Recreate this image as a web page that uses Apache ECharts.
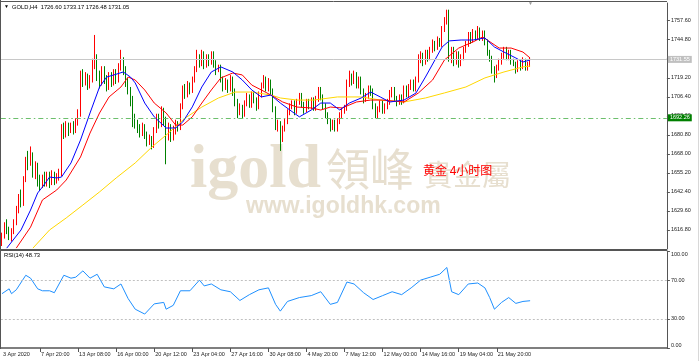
<!DOCTYPE html>
<html><head><meta charset="utf-8">
<script src="https://cdn.jsdelivr.net/npm/echarts@6/dist/echarts.min.js"></script>
<style>html,body{margin:0;padding:0;background:#fff}#c{width:700px;height:361px}</style>
</head><body><div id="c"></div>
<script>
const symbolName = 'GOLD,H4';
const xTickLabels = ['3 Apr 2020','7 Apr 20:00','13 Apr 08:00','16 Apr 00:00','20 Apr 12:00','23 Apr 04:00','27 Apr 16:00','30 Apr 08:00','4 May 20:00','7 May 12:00','12 May 00:00','14 May 16:00','19 May 04:00','21 May 20:00'];
const priceTickStart = 1604.0, priceTickStep = 12.8, priceMax = 1769.5;
const rsiLevels = [0, 30, 70, 100];
const bidPrice = 1731.55;
const hLinePrice = 1692.26;
const rsiLast = 48.73;

const opens = [1610,1613,1620,1616,1612,1616,1622,1631,1639,1635,1651,1664,1662,1667,1656,1660,1650,1647,1651,1648,1653,1649,1654,1650,1652,1655,1684,1681,1686,1683,1687,1684,1689,1695,1721,1716,1720,1714,1718,1728,1731,1720,1716,1724,1718,1713,1720,1716,1722,1718,1726,1731,1724,1716,1711,1704,1690,1688,1684,1681,1686,1680,1676,1678,1674,1684,1692,1688,1696,1690,1684,1686,1680,1684,1688,1686,1700,1712,1708,1714,1711,1718,1725,1731,1729,1734,1728,1733,1730,1735,1728,1724,1726,1718,1713,1716,1712,1718,1710,1702,1696,1699,1695,1702,1706,1701,1708,1704,1700,1708,1714,1718,1712,1716,1710,1698,1686,1688,1678,1685,1690,1696,1700,1702,1697,1703,1707,1701,1698,1703,1700,1704,1699,1705,1711,1706,1700,1694,1690,1686,1689,1685,1690,1694,1697,1699,1715,1720,1717,1721,1714,1718,1710,1704,1707,1712,1710,1700,1694,1698,1702,1697,1700,1703,1709,1711,1705,1703,1706,1704,1712,1708,1713,1716,1712,1718,1732,1734,1730,1736,1733,1738,1742,1740,1744,1742,1752,1758,1762,1734,1738,1730,1735,1729,1733,1738,1742,1748,1745,1749,1747,1751,1746,1749,1743,1736,1732,1724,1721,1726,1730,1734,1738,1733,1736,1730,1728,1725,1729,1727,1730,1726,1726.60];
const highs = [1615,1622,1624,1619,1618,1624,1633,1641,1644,1653,1666,1670,1673,1669,1663,1662,1654,1654,1656,1656,1656,1657,1656,1655,1658,1688,1689,1690,1689,1689,1690,1692,1698,1724,1725,1723,1722,1721,1732,1748,1735,1724,1727,1727,1721,1723,1723,1725,1725,1729,1738,1733,1727,1719,1713,1707,1695,1691,1688,1689,1688,1683,1681,1680,1686,1695,1695,1700,1699,1693,1689,1688,1687,1691,1690,1702,1714,1715,1717,1716,1720,1727,1738,1735,1738,1737,1735,1735,1737,1737,1731,1728,1728,1720,1719,1718,1721,1720,1712,1705,1702,1701,1704,1709,1708,1710,1710,1706,1710,1716,1721,1720,1719,1718,1712,1700,1691,1690,1687,1692,1698,1702,1704,1704,1705,1709,1709,1703,1705,1705,1706,1706,1707,1713,1713,1708,1702,1696,1692,1691,1691,1692,1696,1699,1701,1718,1724,1722,1724,1723,1720,1720,1712,1709,1714,1714,1712,1702,1700,1704,1704,1702,1705,1711,1713,1713,1707,1708,1708,1714,1714,1715,1718,1718,1720,1735,1737,1736,1738,1738,1740,1745,1744,1747,1746,1754,1760,1765,1765,1740,1740,1737,1737,1735,1740,1744,1750,1750,1752,1751,1754,1753,1751,1751,1745,1738,1734,1727,1728,1732,1736,1740,1740,1738,1738,1732,1730,1731,1731,1733,1732,1730,1733.17];
const lows = [1606,1611,1614,1610,1609,1614,1620,1628,1632,1633,1649,1657,1660,1652,1651,1646,1643,1645,1646,1646,1645,1647,1647,1648,1650,1653,1678,1679,1680,1682,1681,1682,1687,1693,1713,1714,1711,1712,1716,1725,1717,1712,1714,1715,1710,1711,1713,1714,1715,1716,1724,1721,1713,1708,1700,1686,1685,1682,1679,1680,1678,1673,1674,1671,1672,1682,1685,1686,1687,1661,1677,1676,1677,1681,1683,1684,1698,1705,1706,1708,1709,1716,1723,1726,1727,1725,1726,1727,1728,1726,1721,1723,1716,1710,1711,1709,1710,1707,1700,1692,1694,1692,1693,1700,1699,1699,1702,1697,1698,1706,1712,1710,1710,1708,1696,1684,1683,1670,1676,1683,1688,1694,1698,1694,1695,1701,1699,1695,1696,1698,1698,1697,1697,1703,1704,1698,1692,1688,1683,1684,1683,1683,1688,1692,1695,1697,1713,1714,1715,1712,1712,1708,1702,1703,1705,1707,1698,1692,1692,1696,1695,1695,1698,1701,1706,1703,1700,1701,1701,1702,1706,1706,1711,1710,1710,1716,1729,1727,1728,1730,1731,1736,1737,1738,1740,1740,1750,1755,1730,1729,1727,1728,1726,1727,1731,1736,1740,1742,1743,1744,1745,1744,1744,1741,1734,1730,1722,1716,1719,1724,1728,1732,1731,1731,1728,1727,1722,1723,1724,1725,1724,1724,1726.48];
const closes = [1613,1620,1616,1612,1616,1622,1631,1639,1635,1651,1664,1662,1667,1656,1660,1650,1647,1651,1648,1653,1649,1654,1650,1652,1655,1684,1681,1686,1683,1687,1684,1689,1695,1721,1716,1720,1714,1718,1728,1731,1720,1716,1724,1718,1713,1720,1716,1722,1718,1726,1731,1724,1716,1711,1704,1690,1688,1684,1681,1686,1680,1676,1678,1674,1684,1692,1688,1696,1690,1684,1686,1680,1684,1688,1686,1700,1712,1708,1714,1711,1718,1725,1731,1729,1734,1728,1733,1730,1735,1728,1724,1726,1718,1713,1716,1712,1718,1710,1702,1696,1699,1695,1702,1706,1701,1708,1704,1700,1708,1714,1718,1712,1716,1710,1698,1686,1688,1678,1685,1690,1696,1700,1702,1697,1703,1707,1701,1698,1703,1700,1704,1699,1705,1711,1706,1700,1694,1690,1686,1689,1685,1690,1694,1697,1699,1715,1720,1717,1721,1714,1718,1710,1704,1707,1712,1710,1700,1694,1698,1702,1697,1700,1703,1709,1711,1705,1703,1706,1704,1712,1708,1713,1716,1712,1718,1732,1734,1730,1736,1733,1738,1742,1740,1744,1742,1752,1758,1762,1734,1738,1730,1735,1729,1733,1738,1742,1748,1745,1749,1747,1751,1746,1749,1743,1736,1732,1724,1721,1726,1730,1734,1738,1733,1736,1730,1728,1725,1729,1727,1730,1726,1727,1731.05];

// moving averages: [bar index, price]
const maBlue = [[2,1604.6],[7.6,1616.8],[11.8,1630.2],[14.6,1641.7],[17.4,1645.7],[20.2,1652.4],[23,1651.8],[25.1,1652.4],[28.6,1661.9],[32.8,1677.3],[37,1695.5],[41.2,1713.0],[44,1719.7],[46.8,1721.1],[50.9,1723.1],[53.8,1719.7],[55.9,1715.7],[60.1,1702.2],[64.3,1692.9],[68.5,1685.4],[72.7,1685.4],[75.5,1689.5],[79.7,1699.6],[83.9,1713.0],[88.1,1723.1],[92.4,1726.5],[96.6,1723.1],[100.8,1717.7],[105,1711.0],[108.5,1706.3],[112.7,1707.6],[116.9,1702.2],[121.1,1697.5],[125.3,1692.9],[129.5,1697.5],[133.7,1702.2],[137.9,1702.2],[142.1,1697.5],[146.3,1702.2],[150.5,1705.6],[154.7,1709.6],[158.9,1706.3],[163.1,1702.9],[169.4,1704.2],[173.6,1708.9],[177.8,1719.7],[182,1731.2],[185.4,1739.9],[188.3,1744.0],[193.4,1744.6],[197.6,1744.6],[203,1746.0],[207.2,1739.9],[211.4,1736.5],[215.6,1732.5],[218.6,1729.8],[222,1731.2]];
const maRed = [[5.5,1604.6],[11.8,1618.7],[17.2,1637.0],[23.1,1643.7],[27.3,1650.4],[32.8,1665.9],[37,1682.0],[41.2,1695.5],[45.4,1706.3],[49.6,1713.0],[53,1719.7],[55.9,1717.7],[60.1,1711.0],[64.3,1702.2],[68.5,1695.5],[72.7,1687.4],[75.7,1687.4],[79.7,1692.9],[83.9,1702.2],[88.1,1711.0],[92.4,1719.1],[96.6,1722.4],[100.8,1721.1],[105,1714.3],[109.2,1711.0],[112.7,1707.6],[118.1,1702.9],[123.9,1699.5],[129.5,1698.9],[133.7,1697.5],[137.9,1699.5],[143.3,1698.9],[149.1,1702.9],[154.7,1704.2],[160.2,1704.2],[169.4,1702.9],[174.8,1708.9],[180.7,1717.7],[186.2,1731.2],[191.7,1739.2],[197.6,1743.3],[201.8,1746.6],[204.3,1744.6],[208.5,1739.2],[214.4,1739.2],[218.6,1736.5],[222,1732.5]];
const maYellow = [[12.6,1604.6],[20.2,1616.8],[27.3,1624.9],[34,1633.6],[41.2,1642.4],[48.3,1651.8],[55.9,1661.9],[63.1,1672.6],[69.8,1682.0],[76.9,1692.1],[84.1,1699.5],[90.8,1705.6],[97.9,1709.6],[105.1,1709.6],[112.7,1707.6],[116.9,1705.6],[123.9,1704.2],[130.7,1704.2],[140.7,1706.3],[150.5,1706.3],[158.9,1704.2],[168.6,1702.9],[177.8,1705.6],[186.2,1709.0],[194.6,1713.0],[203,1719.1],[211.4,1723.1],[218.6,1726.5],[222,1727.1]];
// RSI(14): [bar index, value]
const rsiValues = [[0,56],[2.7,61],[4.1,56],[6.2,60],[9.7,75],[11.8,72],[14.6,61],[17.4,59],[20.2,59],[22.3,57],[25.8,75],[28.6,72],[31.4,73],[34.2,79.5],[37,72],[39.8,76],[43.3,63],[46.8,61],[49.6,66],[53.1,51],[55.9,40],[60.1,35],[63.6,45.5],[67.8,47],[69.2,40],[72,44],[74.8,59],[79,59],[82.5,70],[85,64],[88,66],[92,60],[96,58],[100,49],[104,55],[108,60],[112,62],[115,45],[117,38],[120,48],[125,52],[130,54],[134,58],[138,45],[141,47],[145,68],[148,66],[152,57],[156,50],[160,54],[164,58],[168,55],[172,62],[176,70],[180,73],[184,76],[187,83],[189,58],[192,55],[196,66],[200,67],[203,62],[205,52],[207,40],[210,47],[213,52],[216,46],[219,48],[222,48.73]];

const SLOTS = 280;
const categories = Array.from({length: SLOTS}, (_, i) => String(i));
const candleData = opens.map((o, i) => [o, closes[i], lows[i], highs[i]]);
const last = opens.length - 1;
const fmt = v => Number(v).toFixed(2);

const tinyFont = "'Liberation Sans',Arial,sans-serif";
const labelSize = 5.5;

const chart = echarts.init(document.getElementById('c'), null, {renderer: 'canvas'});
const option = {
  animation: false,
  backgroundColor: '#ffffff',
  grid: [
    {left: 0.81, right: 33.1, top: 3, height: 246},
    {left: 0.81, right: 33.1, top: 251, height: 97}
  ],
  xAxis: [
    {type: 'category', gridIndex: 0, data: categories, boundaryGap: true, show: false},
    {type: 'category', gridIndex: 1, data: categories, boundaryGap: true,
     axisLine: {show: true, lineStyle: {color: '#555', width: 1.5}},
     axisTick: {show: true, alignWithLabel: true, length: 4, lineStyle: {color: '#555'},
       interval: (i) => i > 0 && i % 16 === 0 && i / 16 < xTickLabels.length},
     axisLabel: {show: true, align: 'left', margin: 3, fontSize: labelSize, fontFamily: tinyFont, color: '#222',
       padding: [0, 0, 0, 1],
       interval: (i) => i % 16 === 0 && i / 16 < xTickLabels.length,
       formatter: (v, i) => xTickLabels[i / 16] || ''},
     splitLine: {show: false}}
  ],
  yAxis: [
    {type: 'value', gridIndex: 0, position: 'right', min: priceTickStart, max: priceMax, interval: priceTickStep,
     axisLine: {show: true, lineStyle: {color: '#555', width: 1}},
     axisTick: {show: true, length: 3, lineStyle: {color: '#555'}},
     axisLabel: {fontSize: labelSize, fontFamily: tinyFont, color: '#222', margin: 4, formatter: fmt,
       showMinLabel: false, showMaxLabel: false},
     splitLine: {show: false}},
    {type: 'value', gridIndex: 1, position: 'right', min: 0, max: 100, interval: 10,
     axisLine: {show: true, lineStyle: {color: '#555', width: 1}},
     axisTick: {show: true, length: 3, lineStyle: {color: '#555'}, customValues: rsiLevels},
     axisLabel: {fontSize: labelSize, fontFamily: tinyFont, color: '#222', margin: 4,
       customValues: rsiLevels,
       formatter: v => rsiLevels.indexOf(v) >= 0 ? fmt(v) : '',
       verticalAlignMaxLabel: 'top', verticalAlignMinLabel: 'bottom'},
     splitLine: {show: false}}
  ],
  series: [
    {type: 'candlestick', xAxisIndex: 0, yAxisIndex: 0, data: candleData, barWidth: 1,
     itemStyle: {color: '#ff0000', color0: '#008000', borderColor: '#ff0000', borderColor0: '#008000', borderWidth: 1},
     markLine: {symbol: ['none', 'none'], silent: true, animation: false,
       data: [
         {yAxis: bidPrice, lineStyle: {color: '#c8c8c8', width: 1, type: 'solid'},
          label: {show: true, position: 'end', distance: 1, formatter: fmt(bidPrice), backgroundColor: '#c0c0c0', color: '#ffffff',
            fontSize: labelSize, fontFamily: tinyFont, padding: [1, 2, 0, 2]}},
         {yAxis: hLinePrice, lineStyle: {color: '#6cbf6c', width: 1, type: [5, 3, 1.5, 3]},
          label: {show: true, position: 'end', distance: 1, formatter: fmt(hLinePrice), backgroundColor: '#008000', color: '#ffffff',
            fontSize: labelSize, fontFamily: tinyFont, padding: [1, 2, 0, 2]}}
       ]}},
    {type: 'line', xAxisIndex: 0, yAxisIndex: 0, data: maYellow, showSymbol: false, lineStyle: {color: '#ffd700', width: 1}},
    {type: 'line', xAxisIndex: 0, yAxisIndex: 0, data: maRed, showSymbol: false, lineStyle: {color: '#ff0000', width: 1}},
    {type: 'line', xAxisIndex: 0, yAxisIndex: 0, data: maBlue, showSymbol: false, lineStyle: {color: '#0000ff', width: 1}},
    {type: 'line', xAxisIndex: 1, yAxisIndex: 1, data: rsiValues, showSymbol: false, lineStyle: {color: '#1e90ff', width: 1},
     markLine: {symbol: ['none', 'none'], silent: true, animation: false, label: {show: false},
       lineStyle: {color: '#c0c0c0', type: [2, 2], width: 1},
       data: [{yAxis: 30}, {yAxis: 70}]}}
  ],
  graphic: [
    {type: 'text', z: 0, left: 190, top: 140, style: {text: 'igold', font: 'bold 62px "Liberation Serif", serif', fill: '#e7dfcf'}},
    {type: 'text', z: 0, left: 326, top: 147, style: {text: '領峰', font: '44px "Noto Sans CJK TC", sans-serif', fill: '#e7dfcf'}},
    {type: 'text', z: 0, left: 246, top: 195, style: {text: 'www.igoldhk.com', font: 'bold 23px "Liberation Sans", sans-serif', fill: '#e7dfcf'}},
    {type: 'text', z: 0, left: 424, top: 160, style: {text: '貴金屬', font: '29px "Noto Sans CJK TC", sans-serif', fill: '#e7dfcf'}},
    {type: 'text', z: 5, left: 423, top: 164, style: {text: '黄金 4小时图', font: '12px "Noto Sans CJK SC", sans-serif', fill: '#ff0000'}},
    {type: 'text', z: 5, left: 4, top: 4.5, style: {text: '▼', font: '5px sans-serif', fill: '#000'}},
    {type: 'text', z: 5, left: 12, top: 4, style: {text: symbolName + '  ' + [opens[last], highs[last], lows[last], closes[last]].map(fmt).join(' '), font: '5.8px ' + tinyFont, fill: '#000'}},
    {type: 'text', z: 5, left: 4, top: 252.5, style: {text: 'RSI(14) ' + fmt(rsiLast), font: '5.8px ' + tinyFont, fill: '#000'}},
    {type: 'text', z: 5, left: 528, top: 1, style: {text: '▼', font: '5px sans-serif', fill: '#9a9a9a'}},
    {type: 'line', z: 6, shape: {x1: 0, y1: 1.5, x2: 667, y2: 1.5}, style: {stroke: '#555', lineWidth: 1}},
    {type: 'line', z: 6, shape: {x1: 0.5, y1: 0, x2: 0.5, y2: 349}, style: {stroke: '#555', lineWidth: 1}},
    {type: 'line', z: 6, shape: {x1: 0, y1: 250, x2: 667, y2: 250}, style: {stroke: '#555', lineWidth: 2}},
    {type: 'line', z: 6, shape: {x1: 698.5, y1: 0, x2: 698.5, y2: 361}, style: {stroke: '#d8d8d8', lineWidth: 1}}
  ]
};
chart.setOption(option);
</script>
</body></html>
